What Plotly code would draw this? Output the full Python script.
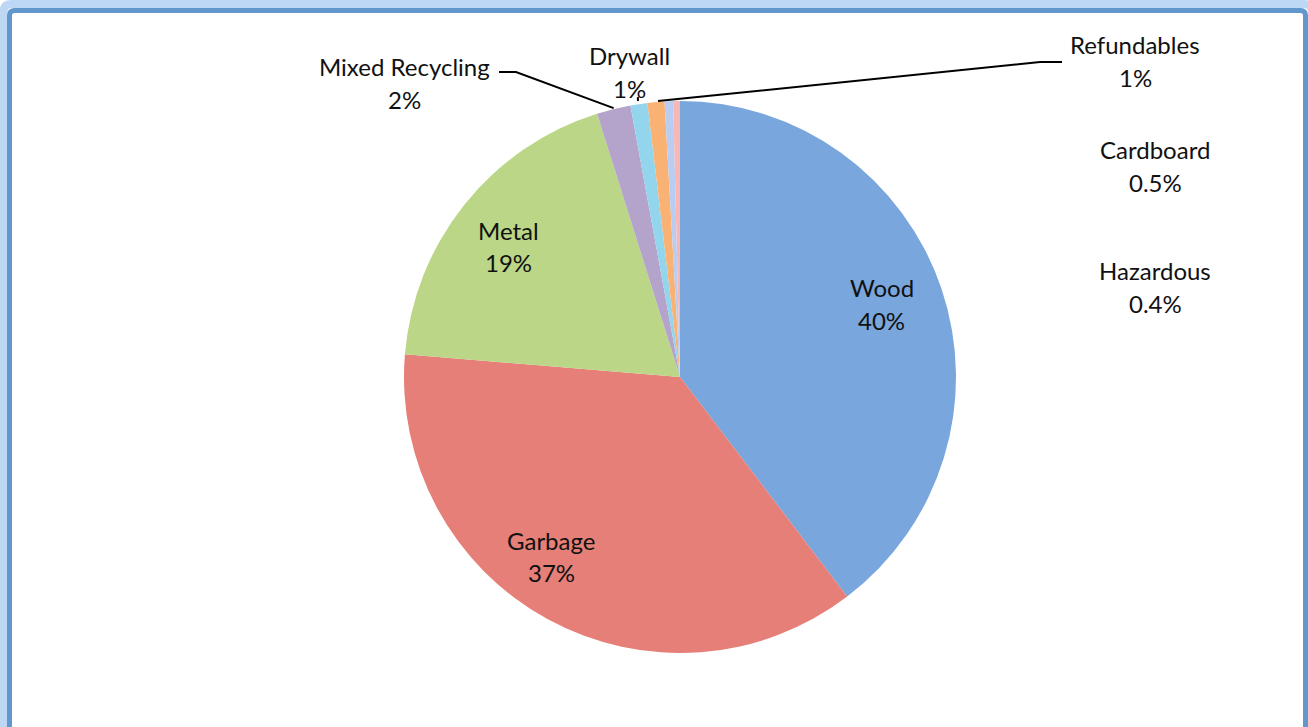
import math
import plotly.graph_objects as go

# Waste composition by material stream (percent of total)
categories = ["Wood", "Garbage", "Metal", "Mixed Recycling", "Drywall",
              "Refundables", "Cardboard", "Hazardous"]
values = [40, 37, 19, 2, 1, 1, 0.5, 0.4]
pct_labels = ["40%", "37%", "19%", "2%", "1%", "1%", "0.5%", "0.4%"]
colors = ["#7aa6de", "#e57f78", "#bad686", "#b4a3ca", "#93d5ec",
          "#f9b274", "#b8cdf1", "#f5b8b6"]

W, H = 1308, 727
FONT = "Lato, Carlito, 'Open Sans', sans-serif"
TEXT_COLOR = "#111111"

# Pie placement in pixels (center and radius)
CX, CY, R = 680, 377, 276


def px(x):
    return x / W


def py(y):
    return 1 - y / H


fig = go.Figure()
fig.add_trace(go.Pie(
    labels=categories,
    values=values,
    sort=False,
    direction="clockwise",
    rotation=0,
    marker=dict(colors=colors, line=dict(width=0)),
    textinfo="none",
    hoverinfo="label+percent",
    showlegend=False,
    domain=dict(x=[px(CX - R), px(CX + R)], y=[py(CY + R), py(CY - R)]),
))

# Text block positions (x center, name line y, percent line y) in pixels
label_pos = {
    "Wood": (882, 288, 320),
    "Garbage": (551, 540, 572),
    "Metal": (508, 230, 262),
    "Mixed Recycling": (404, 67, 99),
    "Drywall": (629, 55, 88),
    "Refundables": (1135, 44, 77),
    "Cardboard": (1155, 150, 183),
    "Hazardous": (1155, 270, 303),
}

annotations = []
for name, pct in zip(categories, pct_labels):
    x, y1, y2 = label_pos[name]
    for txt, yy in ((name, y1), (pct, y2)):
        annotations.append(dict(
            x=px(x), y=py(yy), xref="paper", yref="paper",
            text=txt, showarrow=False, xanchor="center", yanchor="middle",
            font=dict(family=FONT, size=24, color=TEXT_COLOR),
        ))


def edge_point(idx, frac=1.0):
    """Point on the pie rim at the middle angle of slice idx."""
    total = sum(values)
    start = sum(values[:idx])
    ang = (start + values[idx] / 2) / total * 2 * math.pi
    return CX + R * frac * math.sin(ang), CY - R * frac * math.cos(ang)


shapes = []
# Leader lines for the thin slices
mx, my = edge_point(categories.index("Mixed Recycling"))
rx, ry = edge_point(categories.index("Refundables"))
dx, dy = edge_point(categories.index("Drywall"))
leaders = [
    f"M {px(499)},{py(72)} L {px(516)},{py(72)} L {px(mx)},{py(my - 1)}",
    f"M {px(1062)},{py(62)} L {px(1040)},{py(62)} L {px(rx + 2)},{py(ry - 1)}",
    f"M {px(dx - 1)},{py(dy - 7)} L {px(dx - 1)},{py(dy - 3)}",
]
for p in leaders:
    shapes.append(dict(type="path", path=p, xref="paper", yref="paper",
                       line=dict(color="#000000", width=2)))


def frame_path(x0, y0, x1, y1, rad):
    return (f"M {px(x0)},{py(y1)} L {px(x0)},{py(y0 + rad)} "
            f"Q {px(x0)},{py(y0)} {px(x0 + rad)},{py(y0)} "
            f"L {px(x1 - rad)},{py(y0)} Q {px(x1)},{py(y0)} {px(x1)},{py(y0 + rad)} "
            f"L {px(x1)},{py(y1)}")


# Soft outer glow and the chart frame
shapes.append(dict(type="path", path=frame_path(3.5, 4, 1312, 760, 8),
                   xref="paper", yref="paper",
                   line=dict(color="#bcd8f4", width=8)))
shapes.append(dict(type="path", path=frame_path(9.5, 10.5, 1305.5, 760, 5),
                   xref="paper", yref="paper",
                   line=dict(color="#6297cd", width=5)))

fig.update_layout(
    width=W, height=H,
    margin=dict(l=0, r=0, t=0, b=0),
    paper_bgcolor="#ffffff",
    plot_bgcolor="#ffffff",
    annotations=annotations,
    shapes=shapes,
)

fig.write_html("out.html", config={"displayModeBar": False})
